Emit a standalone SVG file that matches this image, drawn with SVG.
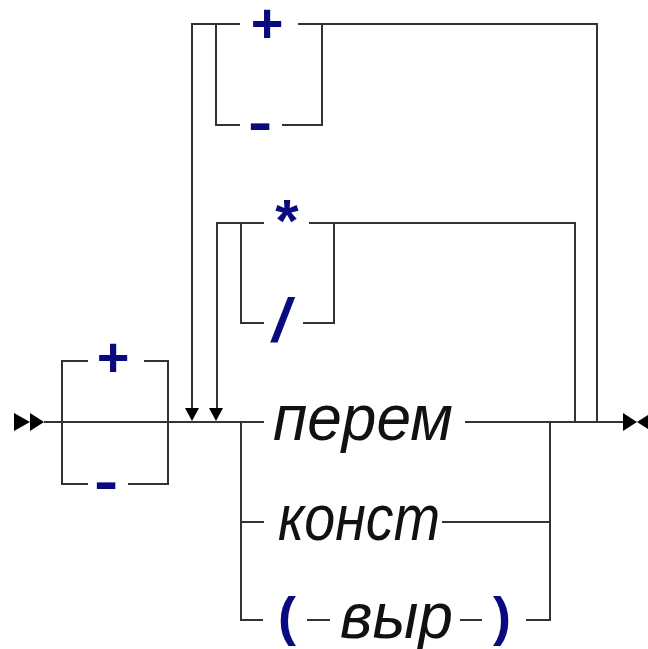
<svg xmlns="http://www.w3.org/2000/svg" width="648" height="649" viewBox="0 0 648 649">
<style>
.ln{fill:none;stroke:#333;stroke-width:2}
.ar{fill:#000}
.kw{font-family:"Liberation Sans",Arial,sans-serif;font-style:italic;font-size:64px;fill:#111}
.sym{font-family:"Liberation Sans",Arial,sans-serif;font-weight:bold;font-size:56px;fill:#0a0a80;text-anchor:middle}
</style>
<rect width="648" height="649" fill="#fff"/>
<g id="connectors">
<path class="ln" d="M44 422 H264 M465 422 H623"/>
<path class="ln" d="M62 422 V361 H88 M144 361 H168 V422 M62 422 V484 H88 M128 484 H168 V422"/>
<path class="ln" d="M597 422 V24 H298 M240 24 H192 V409"/>
<path class="ln" d="M216 24 V125 H240 M282 125 H322 V24"/>
<path class="ln" d="M575 422 V223 H309 M264 223 H217 V409"/>
<path class="ln" d="M241 223 V323 H264 M303 323 H334 V223"/>
<path class="ln" d="M241 422 V620 H263 M241 522 H264 M442 522 H550 M550 422 V620 H526 M307 620 H330 M460 620 H482"/>
<polygon class="ar" points="185,408 199,408 192,421"/>
<polygon class="ar" points="209,408 223,408 216,421"/>
<polygon class="ar" points="14,413 30,422 14,431"/>
<polygon class="ar" points="30,413 44,422 30,431"/>
<polygon class="ar" points="623,413 637,422 623,431"/>
<polygon class="ar" points="648,415 637,422 648,429"/>
</g>
<g id="sign-plus-left"><text class="sym" x="113" y="376">+</text></g>
<g id="sign-minus-left"><text class="sym" transform="translate(106,500) scale(1.3,1)" x="0" y="0">-</text></g>
<g id="sign-plus-top"><text class="sym" x="267" y="42">+</text></g>
<g id="sign-minus-top"><text class="sym" transform="translate(260,141) scale(1.3,1)" x="0" y="0">-</text></g>
<g id="op-mul"><text class="sym" x="287" y="241" style="font-size:60px">*</text></g>
<g id="op-div"><text class="sym" x="281" y="341" style="font-style:italic;font-size:62px">/</text></g>
<g id="perem"><text class="kw" x="273" y="440" textLength="180" lengthAdjust="spacingAndGlyphs">перем</text></g>
<g id="konst"><text class="kw" x="278" y="540" textLength="162" lengthAdjust="spacingAndGlyphs">конст</text></g>
<g id="lparen"><text class="sym" x="287" y="635" style="font-size:54px">(</text></g>
<g id="vyr"><text class="kw" x="340" y="638" textLength="113" lengthAdjust="spacingAndGlyphs">выр</text></g>
<g id="rparen"><text class="sym" x="502" y="635" style="font-size:54px">)</text></g>
</svg>
